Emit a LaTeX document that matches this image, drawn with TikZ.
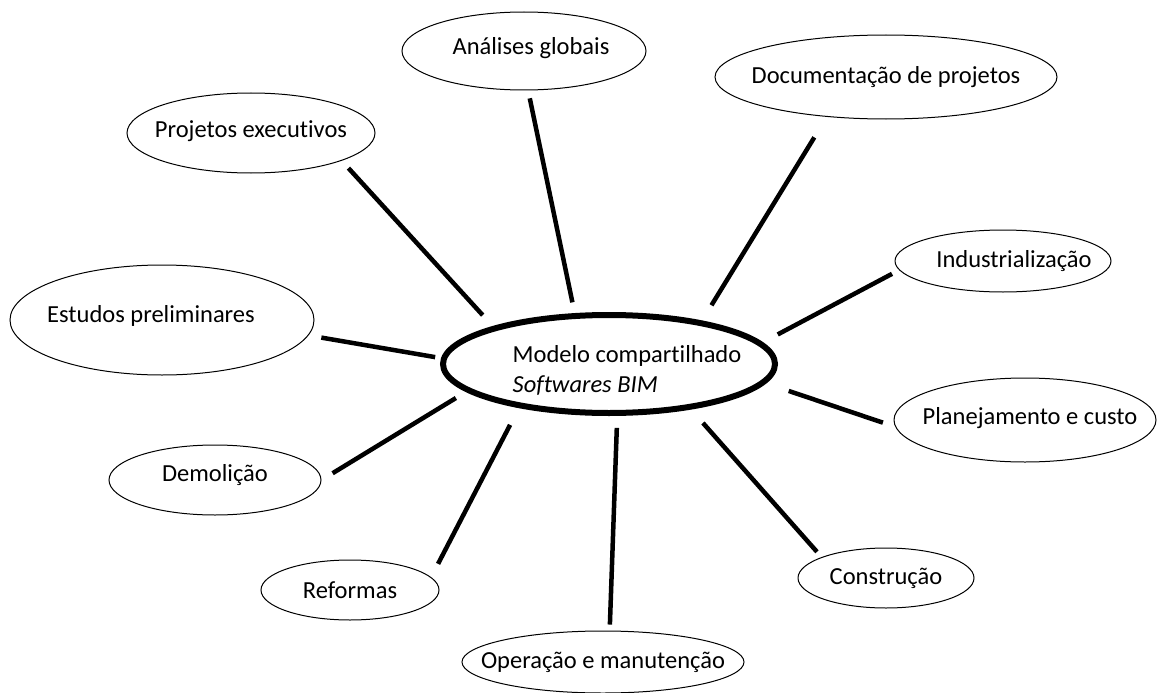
\documentclass[tikz,border=0pt]{standalone}
\usepackage{fontspec}
\setmainfont{Carlito}[Ligatures=CommonOff]
\usetikzlibrary{shapes.geometric}
\tikzset{
	topic/.style={ellipse, draw=black, line width=1pt, inner sep=0pt},
	hub/.style={ellipse, draw=black, line width=6pt, inner sep=0pt},
	link/.style={draw=black, line width=4.5pt},
}

\begin{document}
\begin{tikzpicture}[x=1pt, y=-1pt, font=\fontsize{24.5}{30}\selectfont]
		\path[use as bounding box, fill=white] (0,0) rectangle (1157,693);
		\node[hub, minimum width=332pt, minimum height=98pt, label={[align=left, xshift=18pt, yshift=-6pt]center:{Modelo compartilhado\\\textit{Softwares BIM}}}] (modelo) at (609,364) {};
		\node[topic, minimum width=244pt, minimum height=78pt, label={[xshift=7pt, yshift=3pt]center:Análises globais}] (analises) at (524,51) {};
		\node[topic, minimum width=342pt, minimum height=84pt, label=center:Documentação de projetos] (docproj) at (886,77) {};
		\node[topic, minimum width=248pt, minimum height=80pt, label={[yshift=2pt]center:Projetos executivos}] (projexec) at (251,133) {};
		\node[topic, minimum width=216pt, minimum height=62pt, label={[xshift=11pt]center:Industrialização}] (industr) at (1003,261) {};
		\node[topic, minimum width=304pt, minimum height=110pt, label={[xshift=-11pt, yshift=4pt]center:Estudos preliminares}] (estudos) at (162,320) {};
		\node[topic, minimum width=262pt, minimum height=84pt, label={[xshift=5pt, yshift=2pt]center:Planejamento e custo}] (planej) at (1025,420) {};
		\node[topic, minimum width=212pt, minimum height=70pt, label={[yshift=5pt]center:Demolição}] (demolicao) at (215,480) {};
		\node[topic, minimum width=178pt, minimum height=60pt, label=center:Reformas] (reformas) at (350,590) {};
		\node[topic, minimum width=176pt, minimum height=60pt, label=center:Construção] (construcao) at (886,578) {};
		\node[topic, minimum width=282pt, minimum height=62pt, label=center:Operação e manutenção] (operacao) at (603,662) {};
		% spokes, kept apart from both ellipses
		\draw[link, shorten <=11pt, shorten >=8pt] (modelo.124) -- (analises.-84);
		\draw[link, shorten <=18pt, shorten >=24pt] (modelo.25.5) -- (docproj.-146);
		\draw[link, shorten <=15pt, shorten >=10pt] (modelo.162) -- (projexec.-17);
		\draw[link, shorten <=17pt, shorten >=8pt] (modelo.8) -- (industr.-175.5);
		\draw[link, shorten <=6pt, shorten >=13pt] (modelo.178) -- (estudos.-6);
		\draw[link, shorten <=24pt, shorten >=13pt] (modelo.-7.6) -- (planej.-177);
		\draw[link, shorten <=12pt, shorten >=13pt] (modelo.-169) -- (demolicao.0);
		\draw[link, shorten <=19pt, shorten >=15pt] (modelo.-154) -- (reformas.9.5);
		\draw[link, shorten <=12pt, shorten >=6pt] (modelo.-81) -- (operacao.78);
		\draw[link, shorten <=18pt, shorten >=7pt] (modelo.-29.4) -- (construcao.162);
	\end{tikzpicture}
\end{document}
